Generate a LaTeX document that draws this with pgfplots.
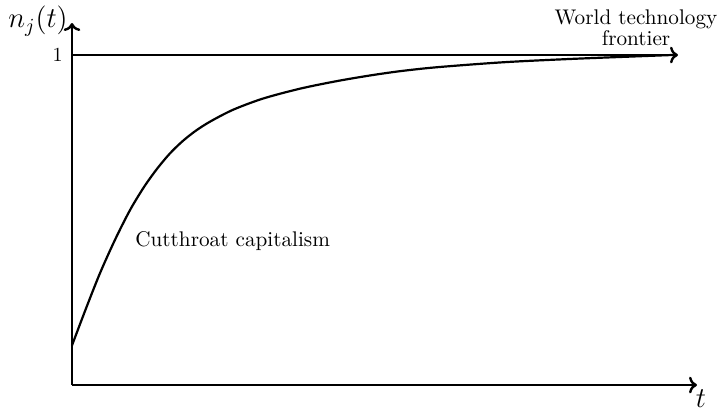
\documentclass[border=0pt]{standalone}
\usepackage{pgfplots}
\pgfplotsset{compat=1.18}
\usetikzlibrary{arrows.meta}

\begin{document}
\begin{tikzpicture}
  \begin{axis}[
      x=0.5pt, y=165pt,
      xmin=0, xmax=625,
      ymin=0, ymax=1.097,
      axis lines=left,
      axis line style={line width=1.2pt, -{To[length=4pt]}},
      xtick=\empty,
      ytick={1},
      major tick length=0pt,
      yticklabel style={font=\normalsize, inner sep=0pt, xshift=-4.5pt},
      clip=false,
    ]
    % fixed frame of the picture (719 x 413 px at 0.5pt per px)
    \path (axis cs:-72,-0.0848) rectangle (axis cs:647,1.1667);
    % frontier
    \addplot[line width=1.2pt, -{To[length=4pt]}] coordinates {(0,1) (606,1)};
    % convergence path
    \addplot[line width=1.1pt, smooth] coordinates {
      (0,0.12) (14,0.232) (28,0.339) (43,0.440) (58,0.530) (72,0.600)
      (85,0.655) (98,0.702) (111,0.740) (124,0.771) (138,0.798)
      (161,0.834) (191,0.868) (228,0.898) (265,0.921) (298,0.938)
      (328,0.951) (365,0.963) (431,0.978) (498,0.988) (565,0.996) (600,1.0)
    };
    \node[font=\Large, inner sep=0pt] at (axis cs:-34,1.103) {$n_j(t)$};
    \node[font=\Large, inner sep=0pt] at (axis cs:629,-0.040) {$t$};
    \node[align=center, inner sep=0pt, anchor=north,
          font=\fontsize{10.6}{9}\selectfont] at (axis cs:564,1.138)
      {World technology\\frontier};
    \node[inner sep=0pt, anchor=base west, font=\fontsize{10.6}{12}\selectfont]
      at (axis cs:63,0.4212) {Cutthroat capitalism};
  \end{axis}
\end{tikzpicture}
\end{document}
